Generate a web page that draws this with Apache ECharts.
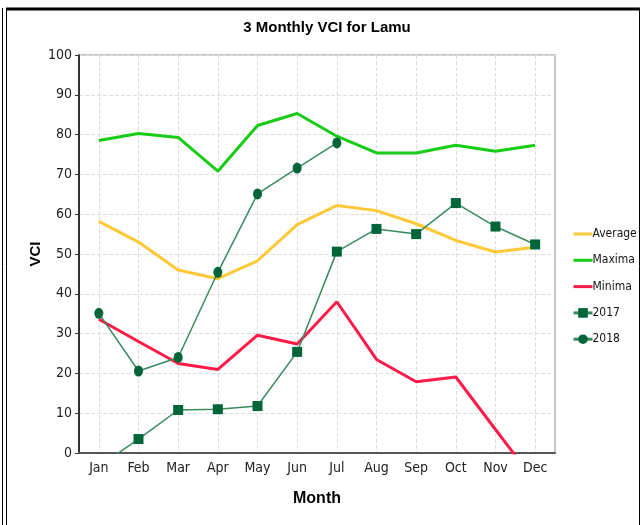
<!DOCTYPE html>
<html lang="en">
<head>
    <meta charset="UTF-8">
    <title>3 Monthly VCI for Lamu</title>
    <script src="https://cdn.jsdelivr.net/npm/echarts@6/dist/echarts.min.js"></script>
    <style>
        html, body { margin: 0; padding: 0; background: #fff; }
    </style>
</head>
<body>
<div id="main" style="width: 640px;height:525px;"></div>
<script>
    // categories and values
    var months = ['Jan', 'Feb', 'Mar', 'Apr', 'May', 'Jun', 'Jul', 'Aug', 'Sep', 'Oct', 'Nov', 'Dec'];
    var average = [58.2, 53.0, 46.0, 43.8, 48.3, 57.4, 62.2, 60.9, 57.6, 53.4, 50.5, 51.7];
    var maxima = [78.5, 80.3, 79.3, 70.8, 82.3, 85.3, 79.6, 75.4, 75.4, 77.3, 75.8, 77.3];
    var minima = [33.6, 28.0, 22.5, 21.0, 29.6, 27.4, 38.0, 23.5, 17.9, 19.1, 5.9, -7.2];
    var y2017 = [-3.4, 3.5, 10.8, 11.0, 11.8, 25.4, 50.6, 56.3, 55.0, 62.8, 56.9, 52.4];
    var y2018 = [35.1, 20.6, 24.0, 45.4, 65.1, 71.6, 77.9, null, null, null, null, null];
    var yTicks = [0, 100, 10];

    var font = "'DejaVu Sans Condensed', 'Liberation Sans', sans-serif";

    var myChart = echarts.init(document.getElementById('main'));
    var option = {
        animation: false,
        backgroundColor: '#fff',
        title: {
            text: '3 Monthly VCI for Lamu',
            left: 322,
            textAlign: 'center',
            top: 15,
            textStyle: { fontFamily: 'Liberation Sans', fontWeight: 'bold', fontSize: 15, color: '#000' }
        },
        legend: {
            orient: 'vertical',
            left: 567,
            top: 223,
            itemWidth: 19,
            itemHeight: 12,
            itemGap: 14.3,
            lineStyle: { width: 3 },
            textStyle: { fontFamily: font, fontSize: 12, lineHeight: 12, color: '#111', padding: [0, 0, 0, -5] },
            data: [
                { name: 'Average', itemStyle: { opacity: 0 } },
                { name: 'Maxima', itemStyle: { opacity: 0 } },
                { name: 'Minima', itemStyle: { opacity: 0 } },
                '2017',
                '2018'
            ]
        },
        grid: {
            left: 79, right: 85, top: 55, bottom: 72,
            show: true,
            borderColor: '#c8c8c8',
            borderWidth: 2
        },
        graphic: [
            { type: 'line', shape: { x1: 6, y1: 9, x2: 640, y2: 9 }, style: { stroke: '#000', lineWidth: 3 } },
            { type: 'line', shape: { x1: 2.5, y1: 8, x2: 2.5, y2: 525 }, style: { stroke: '#000', lineWidth: 1 } },
            { type: 'line', shape: { x1: 6.5, y1: 8, x2: 6.5, y2: 525 }, style: { stroke: '#000', lineWidth: 1 } },
            { type: 'line', shape: { x1: 639.5, y1: 8, x2: 639.5, y2: 525 }, style: { stroke: '#000', lineWidth: 1 } }
        ],
        xAxis: {
            type: 'category',
            data: months,
            boundaryGap: true,
            name: 'Month',
            nameLocation: 'middle',
            nameGap: 38,
            nameMoveOverlap: false,
            nameTextStyle: { fontFamily: 'Liberation Sans', fontWeight: 'bold', fontSize: 16, color: '#000' },
            axisLine: { lineStyle: { color: '#555', width: 2 } },
            axisTick: { alignWithLabel: true, length: 4, lineStyle: { color: '#333' } },
            axisLabel: { margin: 8, fontFamily: font, fontSize: 14, color: '#222' },
            splitLine: { show: true, alignWithLabel: true, lineStyle: { color: '#dedede', type: 'dashed', width: 1 } }
        },
        yAxis: {
            type: 'value',
            min: yTicks[0],
            max: yTicks[1],
            interval: yTicks[2],
            name: 'VCI',
            nameLocation: 'middle',
            nameGap: 36,
            nameMoveOverlap: false,
            nameTextStyle: { fontFamily: 'Liberation Sans', fontWeight: 'bold', fontSize: 15, color: '#000' },
            axisLine: { show: true, lineStyle: { color: '#000', width: 1.5 } },
            axisTick: { show: true, length: 4, lineStyle: { color: '#333' } },
            axisLabel: { margin: 7, fontFamily: font, fontSize: 14, color: '#222' },
            splitLine: { show: true, lineStyle: { color: '#dedede', type: 'dashed', width: 1 } }
        },
        series: [
            {
                name: 'Average', type: 'line', data: average, symbol: 'none',
                itemStyle: { color: '#ffc837' },
                lineStyle: { color: '#ffc837', width: 3 }
            },
            {
                name: 'Maxima', type: 'line', data: maxima, symbol: 'none',
                itemStyle: { color: '#17cc17' },
                lineStyle: { color: '#17cc17', width: 3 }
            },
            {
                name: 'Minima', type: 'line', data: minima, symbol: 'none',
                itemStyle: { color: '#ff1a47' },
                lineStyle: { color: '#ff1a47', width: 3 }
            },
            {
                name: '2017', type: 'line', data: y2017, symbol: 'rect', symbolSize: 10,
                showAllSymbol: true,
                itemStyle: { color: '#00663a' },
                lineStyle: { color: '#3a8a60', width: 1.5 },
                z: 3
            },
            {
                name: '2018', type: 'line', data: y2018, symbol: 'circle', symbolSize: [9, 11],
                showAllSymbol: true,
                itemStyle: { color: '#00663a' },
                lineStyle: { color: '#3a8a60', width: 1.5 },
                z: 3
            }
        ]
    };
    myChart.setOption(option);
</script>
</body>
</html>
